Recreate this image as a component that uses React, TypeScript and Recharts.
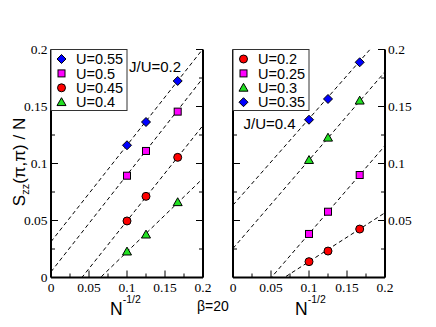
import React from 'react';
import { ComposedChart, Line, Scatter, XAxis, YAxis } from 'recharts';

// ---- data ----
const xValues = [0.1, 0.125, 0.1667];

const leftNames = ['U=0.55', 'U=0.5', 'U=0.45', 'U=0.4'];
const left055 = [0.116, 0.1364, 0.1724];
const left05 = [0.0893, 0.111, 0.1455];
const left045 = [0.0496, 0.0712, 0.1054];
const left04 = [0.0227, 0.0376, 0.066];

const rightNames = ['U=0.2', 'U=0.25', 'U=0.3', 'U=0.35'];
const right02 = [0.0139, 0.0232, 0.0425];
const right025 = [0.0382, 0.0577, 0.0899];
const right03 = [0.103, 0.1226, 0.1551];
const right035 = [0.1384, 0.1566, 0.1888];

// fit lines: values at fitX endpoints
const fitX = [0, 0.2];
const leftFit055 = [0.0314, 0.2006];
const leftFit05 = [0.005, 0.175];
const leftFit045 = [-0.034, 0.1334];
const leftFit04 = [-0.042, 0.087];
const rightFit02 = [-0.029, 0.0568];
const rightFit025 = [-0.039, 0.1157];
const rightFit03 = [0.0255, 0.1805];
const rightFit035 = [0.0635, 0.215];

const majorTicks = [0, 0.05, 0.1, 0.15, 0.2];
const tickLabels = ['0', '0.05', '0.1', '0.15', '0.2'];
const rightTickLabels = ['', '0.05', '0.1', '0.15', '0.2'];
const minorTicks = [0.025, 0.075, 0.125, 0.175];
const allTicks = [...majorTicks, ...minorTicks].sort((a, b) => a - b);

const leftNote = 'J/U=0.2';
const rightNote = 'J/U=0.4';
const betaNote = 'β=20';

// ---- styles ----
const markerColors: Record<string, string> = {
  diamond: '#0000ff',
  square: '#ff00ff',
  circle: '#ff0000',
  triangle: '#22e022',
};

type Series = { name: string; values: number[]; fit: number[]; kind: string };

const leftSeries: Series[] = [
  { name: leftNames[0], values: left055, fit: leftFit055, kind: 'diamond' },
  { name: leftNames[1], values: left05, fit: leftFit05, kind: 'square' },
  { name: leftNames[2], values: left045, fit: leftFit045, kind: 'circle' },
  { name: leftNames[3], values: left04, fit: leftFit04, kind: 'triangle' },
];
const rightSeries: Series[] = [
  { name: rightNames[0], values: right02, fit: rightFit02, kind: 'circle' },
  { name: rightNames[1], values: right025, fit: rightFit025, kind: 'square' },
  { name: rightNames[2], values: right03, fit: rightFit03, kind: 'triangle' },
  { name: rightNames[3], values: right035, fit: rightFit035, kind: 'diamond' },
];

function Marker({ kind, cx, cy }: { kind: string; cx: number; cy: number }) {
  const fill = markerColors[kind];
  const common = { fill, stroke: '#000', strokeWidth: 1 };
  if (kind === 'diamond') {
    const r = 4.5;
    return <polygon points={`${cx},${cy - r} ${cx + r},${cy} ${cx},${cy + r} ${cx - r},${cy}`} {...common} />;
  }
  if (kind === 'square') {
    const r = 3.5;
    return <rect x={cx - r} y={cy - r} width={2 * r} height={2 * r} {...common} />;
  }
  if (kind === 'circle') {
    return <circle cx={cx} cy={cy} r={4} {...common} />;
  }
  const r = 4.5;
  return <polygon points={`${cx},${cy - r} ${cx + r},${cy + r * 0.75} ${cx - r},${cy + r * 0.75}`} {...common} />;
}

const SERIF = '"Liberation Serif", "Times New Roman", serif';
const SANS = '"Liberation Sans", Arial, sans-serif';

function majorIndex(v: number) {
  return majorTicks.findIndex((t) => Math.abs(t - v) < 1e-9);
}

const bottomTick = (props: any) => {
  const { x, y, payload } = props;
  const idx = majorIndex(payload.value);
  const major = idx >= 0;
  return (
    <g>
      <line x1={x} x2={x} y1={y} y2={y - (major ? 7 : 4)} stroke="#000" strokeWidth={1} />
      {major && (
        <text x={x} y={y + 14} textAnchor="middle" fontFamily={SERIF} fontSize={13.5} fill="#000">
          {tickLabels[idx]}
        </text>
      )}
    </g>
  );
};

const topTick = (props: any) => {
  const { x, y, payload } = props;
  const major = majorIndex(payload.value) >= 0;
  return <line x1={x} x2={x} y1={y} y2={y + (major ? 7 : 4)} stroke="#000" strokeWidth={1} />;
};

const makeLeftTick = (labels: boolean) => (props: any) => {
  const { x, y, payload } = props;
  const idx = majorIndex(payload.value);
  const major = idx >= 0;
  return (
    <g>
      <line x1={x} x2={x + (major ? 7 : 4)} y1={y} y2={y} stroke="#000" strokeWidth={1} />
      {major && labels && (
        <text x={x - 3.5} y={y + 4.5} textAnchor="end" fontFamily={SERIF} fontSize={13.5} fill="#000">
          {tickLabels[idx]}
        </text>
      )}
    </g>
  );
};

const makeRightTick = (labels: boolean) => (props: any) => {
  const { x, y, payload } = props;
  const idx = majorIndex(payload.value);
  const major = idx >= 0;
  return (
    <g>
      <line x1={x} x2={x - (major ? 7 : 4)} y1={y} y2={y} stroke="#000" strokeWidth={1} />
      {major && labels && rightTickLabels[idx] !== '' && (
        <text x={x + 3} y={y + 4.5} textAnchor="start" fontFamily={SERIF} fontSize={13.5} fill="#000">
          {rightTickLabels[idx]}
        </text>
      )}
    </g>
  );
};

const frame = { stroke: '#000', strokeWidth: 2 };

function Panel({
  series,
  left,
  margin,
  leftWidth,
  rightWidth,
  labelsOnRight,
}: {
  series: Series[];
  left: number;
  margin: { top: number; right: number; bottom: number; left: number };
  leftWidth: number;
  rightWidth: number;
  labelsOnRight: boolean;
}) {
  return (
    <div style={{ position: 'absolute', left, top: 0 }}>
      <ComposedChart width={218} height={327} margin={margin}>
        <XAxis
          xAxisId="b"
          dataKey="x"
          type="number"
          domain={[0, 0.2]}
          allowDataOverflow
          ticks={allTicks}
          interval={0}
          tickSize={0}
          tickMargin={0}
          tickLine={false}
          axisLine={frame}
          tick={bottomTick}
          height={30}
        />
        <XAxis
          xAxisId="t"
          orientation="top"
          type="number"
          domain={[0, 0.2]}
          allowDataOverflow
          ticks={allTicks}
          interval={0}
          tickSize={0}
          tickMargin={0}
          tickLine={false}
          axisLine={frame}
          tick={topTick}
          height={0}
        />
        <YAxis
          yAxisId="l"
          dataKey="y"
          type="number"
          domain={[0, 0.2]}
          allowDataOverflow
          ticks={allTicks}
          interval={0}
          tickSize={0}
          tickMargin={0}
          tickLine={false}
          axisLine={frame}
          tick={makeLeftTick(!labelsOnRight)}
          width={leftWidth}
        />
        <YAxis
          yAxisId="r"
          orientation="right"
          type="number"
          domain={[0, 0.2]}
          allowDataOverflow
          ticks={allTicks}
          interval={0}
          tickSize={0}
          tickMargin={0}
          tickLine={false}
          axisLine={frame}
          tick={makeRightTick(labelsOnRight)}
          width={rightWidth}
        />
        {series.map((s) => (
          <Line
            key={'fit' + s.name}
            data={fitX.map((x, i) => ({ x, y: s.fit[i] }))}
            dataKey="y"
            xAxisId="b"
            yAxisId="l"
            stroke="#000"
            strokeWidth={1}
            strokeDasharray="4 3"
            dot={false}
            activeDot={false}
            isAnimationActive={false}
          />
        ))}
        {series.map((s) => (
          <Scatter
            key={'pts' + s.name}
            name={s.name}
            data={xValues.map((x, i) => ({ x, y: s.values[i] }))}
            dataKey="y"
            xAxisId="b"
            yAxisId="l"
            isAnimationActive={false}
            shape={(p: any) => <Marker kind={s.kind} cx={p.cx} cy={p.cy} />}
          />
        ))}
      </ComposedChart>
    </div>
  );
}

function LegendBox({ series, x, y, w }: { series: Series[]; x: number; y: number; w: number }) {
  const rowH = 14.4;
  return (
    <g>
      <rect x={x} y={y} width={w} height={61} fill="#fff" stroke="#333" strokeWidth={1} />
      {series.map((s, i) => {
        const cy = y + 9.5 + i * rowH;
        return (
          <g key={s.name}>
            <Marker kind={s.kind} cx={x + 10.5} cy={cy} />
            <text x={x + 25} y={cy + 5.2} fontFamily={SANS} fontSize={14.5} fill="#000">
              {s.name}
            </text>
          </g>
        );
      })}
    </g>
  );
}

export default function App() {
  return (
    <div style={{ position: 'absolute', left: 0, top: 0, width: 436, height: 327, background: '#fff', overflow: 'hidden' }}>
      <Panel
        series={leftSeries}
        left={0}
        margin={{ top: 49.5, right: 5, bottom: 19.5, left: 11 }}
        leftWidth={40}
        rightWidth={10}
        labelsOnRight={false}
      />
      <Panel
        series={rightSeries}
        left={218}
        margin={{ top: 49.5, right: 11, bottom: 19.5, left: 5 }}
        leftWidth={10}
        rightWidth={40}
        labelsOnRight={true}
      />
      <svg width={436} height={327} style={{ position: 'absolute', left: 0, top: 0, pointerEvents: 'none' }}>
        <LegendBox series={leftSeries} x={51} y={49.5} w={76} />
        <LegendBox series={rightSeries} x={233} y={49.5} w={76} />
        <text x={129} y={71.5} fontFamily={SANS} fontSize={15} fill="#000">{leftNote}</text>
        <text x={243.5} y={128.5} fontFamily={SANS} fontSize={15} fill="#000">{rightNote}</text>
        <text x={197} y={311} fontFamily={SANS} fontSize={14} fill="#000">{betaNote}</text>
        <text x={110} y={315} fontFamily={SANS} fontSize={17.5} fill="#000">
          N<tspan dy={-12} fontSize={10.5}>-1/2</tspan>
        </text>
        <text x={295} y={315} fontFamily={SANS} fontSize={17.5} fill="#000">
          N<tspan dy={-12} fontSize={10.5}>-1/2</tspan>
        </text>
        <text transform="translate(25,162) rotate(-90)" x={0} y={0} textAnchor="middle" fontFamily={SANS} fontSize={17} fill="#000">
          S<tspan dy={4} fontSize={11}>zz</tspan>
          <tspan dy={-4}>(π,π) / N</tspan>
        </text>
      </svg>
    </div>
  );
}
